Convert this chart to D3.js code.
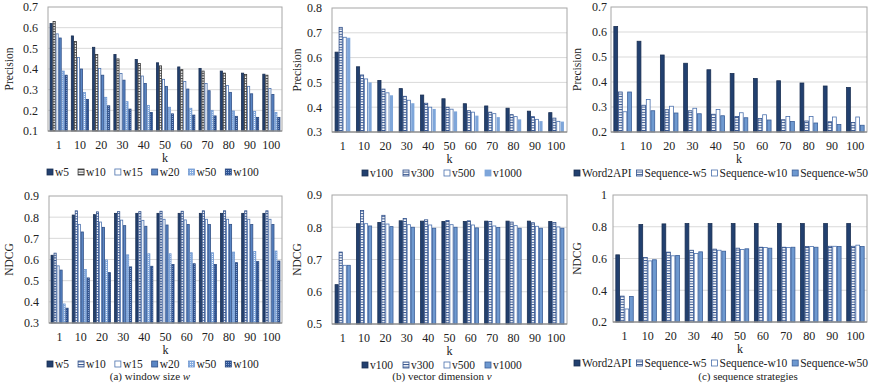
<!DOCTYPE html>
<html>
<head>
<meta charset="utf-8">
<script src="https://cdn.jsdelivr.net/npm/d3@7"></script>
<style>
  body { margin: 0; background: #fff; }
  svg, svg text { font-family: "Liberation Serif", "Times New Roman", "DejaVu Serif", serif !important; }
  svg text { fill: #222; }
</style>
</head>
<body>
<div id="chart"></div>
<script>
// categories (k)
const kLabels = ["1", "10", "20", "30", "40", "50", "60", "70", "80", "90", "100"];

// (a) window size w - precision
const precW5   = [0.62, 0.56, 0.505, 0.47, 0.446, 0.43, 0.41, 0.403, 0.39, 0.38, 0.375];
const precW10  = [0.63, 0.533, 0.47, 0.449, 0.427, 0.415, 0.397, 0.39, 0.38, 0.374, 0.37];
const precW15  = [0.57, 0.456, 0.403, 0.378, 0.366, 0.35, 0.34, 0.33, 0.32, 0.316, 0.306];
const precW20  = [0.55, 0.40, 0.37, 0.346, 0.33, 0.316, 0.303, 0.295, 0.287, 0.28, 0.277];
const precW50  = [0.39, 0.287, 0.263, 0.242, 0.224, 0.215, 0.21, 0.2, 0.197, 0.195, 0.19];
const precW100 = [0.37, 0.253, 0.222, 0.206, 0.19, 0.183, 0.177, 0.173, 0.171, 0.166, 0.166];

// (a) window size w - NDCG
const ndcgW5   = [0.62, 0.81, 0.812, 0.818, 0.818, 0.818, 0.818, 0.818, 0.818, 0.818, 0.818];
const ndcgW10  = [0.63, 0.83, 0.825, 0.826, 0.826, 0.828, 0.828, 0.83, 0.83, 0.83, 0.83];
const ndcgW15  = [0.57, 0.766, 0.777, 0.786, 0.785, 0.79, 0.787, 0.79, 0.79, 0.79, 0.79];
const ndcgW20  = [0.55, 0.73, 0.752, 0.76, 0.757, 0.763, 0.765, 0.765, 0.766, 0.765, 0.765];
const ndcgW50  = [0.39, 0.553, 0.598, 0.622, 0.627, 0.627, 0.632, 0.632, 0.635, 0.638, 0.64];
const ndcgW100 = [0.37, 0.513, 0.538, 0.565, 0.568, 0.576, 0.58, 0.576, 0.585, 0.59, 0.593];

// (b) vector dimension v - precision
const precV100  = [0.622, 0.563, 0.508, 0.475, 0.449, 0.434, 0.414, 0.405, 0.396, 0.384, 0.378];
const precV300  = [0.722, 0.53, 0.473, 0.444, 0.416, 0.40, 0.386, 0.38, 0.37, 0.362, 0.356];
const precV500  = [0.682, 0.514, 0.458, 0.428, 0.40, 0.392, 0.38, 0.374, 0.362, 0.351, 0.343];
const precV1000 = [0.68, 0.50, 0.448, 0.416, 0.393, 0.383, 0.366, 0.36, 0.351, 0.344, 0.342];

// (b) vector dimension v - NDCG
const ndcgV100  = [0.622, 0.811, 0.815, 0.82, 0.819, 0.818, 0.818, 0.819, 0.819, 0.819, 0.818];
const ndcgV300  = [0.723, 0.852, 0.837, 0.827, 0.823, 0.821, 0.82, 0.818, 0.816, 0.814, 0.815];
const ndcgV500  = [0.682, 0.811, 0.81, 0.808, 0.807, 0.808, 0.807, 0.804, 0.805, 0.803, 0.801];
const ndcgV1000 = [0.682, 0.804, 0.802, 0.80, 0.797, 0.80, 0.798, 0.799, 0.797, 0.797, 0.797];

// (c) sequence strategies - precision
const precWord2API = [0.622, 0.563, 0.508, 0.475, 0.449, 0.434, 0.414, 0.405, 0.396, 0.384, 0.378];
const precSeqW5    = [0.36, 0.307, 0.289, 0.285, 0.271, 0.262, 0.254, 0.249, 0.244, 0.241, 0.238];
const precSeqW10   = [0.281, 0.33, 0.303, 0.295, 0.29, 0.277, 0.269, 0.262, 0.262, 0.26, 0.26];
const precSeqW50   = [0.36, 0.285, 0.276, 0.273, 0.265, 0.257, 0.248, 0.242, 0.236, 0.23, 0.227];

// (c) sequence strategies - NDCG
const ndcgWord2API = [0.623, 0.814, 0.818, 0.82, 0.82, 0.82, 0.82, 0.82, 0.82, 0.82, 0.82];
const ndcgSeqW5    = [0.363, 0.606, 0.64, 0.652, 0.659, 0.665, 0.671, 0.671, 0.675, 0.677, 0.677];
const ndcgSeqW10   = [0.282, 0.585, 0.617, 0.631, 0.652, 0.657, 0.669, 0.669, 0.675, 0.677, 0.684];
const ndcgSeqW50   = [0.361, 0.592, 0.619, 0.642, 0.646, 0.661, 0.665, 0.671, 0.671, 0.675, 0.675];

// y tick labels
const ticksA1 = [0.1, 0.2, 0.3, 0.4, 0.5, 0.6, 0.7];
const ticksA2 = [0.3, 0.4, 0.5, 0.6, 0.7, 0.8, 0.9];
const ticksB1 = [0.3, 0.4, 0.5, 0.6, 0.7, 0.8];
const ticksB2 = [0.5, 0.6, 0.7, 0.8, 0.9];
const ticksC1 = [0.2, 0.3, 0.4, 0.5, 0.6, 0.7];
const ticksC2 = [0.2, 0.4, 0.6, 0.8, 1];

const captions = ["(a)  window size ", "(b)  vector dimension ", "(c)  sequence strategies"];

const FONT = "'Liberation Serif', 'Times New Roman', 'DejaVu Serif', serif";
const width = 872, height = 388;
const svg = d3.select("#chart").append("svg")
    .attr("width", width)
    .attr("height", height)
    .attr("font-family", FONT);

const defs = svg.append("defs");

// horizontal-stripe fill (white with coloured rungs)
function stripePattern(id, color) {
    const p = defs.append("pattern").attr("id", id)
        .attr("patternUnits", "userSpaceOnUse")
        .attr("width", 4).attr("height", 2.6);
    p.append("rect").attr("width", 4).attr("height", 2.6).attr("fill", "#fff");
    p.append("rect").attr("y", 0).attr("width", 4).attr("height", 1).attr("fill", color);
}
// dotted fill
function dotPattern(id, base, dot) {
    const p = defs.append("pattern").attr("id", id)
        .attr("patternUnits", "userSpaceOnUse")
        .attr("width", 2).attr("height", 2);
    p.append("rect").attr("width", 2).attr("height", 2).attr("fill", base);
    p.append("rect").attr("width", 1).attr("height", 1).attr("fill", dot);
}
stripePattern("stripeGray", "#3c3c3c");
stripePattern("stripeBlue", "#2f4f8a");
dotPattern("dotLight", "#86ace0", "#eef4fb");
dotPattern("dotDark", "#2d5394", "#8aa6d6");

const styles = {
    navy: { fill: "#22406f", stroke: "#1a2f52" },
    stripeGray: { fill: "url(#stripeGray)", stroke: "#333" },
    stripeBlue: { fill: "url(#stripeBlue)", stroke: "#2f4f8a" },
    white: { fill: "#fff", stroke: "#4a70ad" },
    mid: { fill: "#5a86c5", stroke: "#2f4f86" },
    dotLight: { fill: "url(#dotLight)", stroke: "#6f97cf" },
    dotDark: { fill: "url(#dotDark)", stroke: "#27477e" },
    light: { fill: "#7ea6da", stroke: "none" },
    lightB: { fill: "#6e99d0", stroke: "#3a5e98" }
};

function drawPanel(cfg) {
    const g = svg.append("g");
    const y = d3.scaleLinear().domain([cfg.ticks[0], cfg.ticks[cfg.ticks.length - 1]])
        .range([cfg.y1, cfg.y0]);
    const x = d3.scaleBand().domain(kLabels).range([cfg.x0, cfg.x1])
        .paddingInner(cfg.pad).paddingOuter(cfg.pad / 2);
    const names = cfg.series.map(s => s.name);
    const xs = d3.scaleBand().domain(names).range([0, x.bandwidth()]);

    // gridlines
    g.selectAll(".grid").data(cfg.ticks.slice(1, -1)).join("line")
        .attr("x1", cfg.x0).attr("x2", cfg.x1)
        .attr("y1", d => y(d)).attr("y2", d => y(d))
        .attr("stroke", "#d9d9d9").attr("stroke-width", 1);

    // bars
    cfg.series.forEach(s => {
        const st = styles[s.style];
        g.append("g").selectAll("rect").data(s.values).join("rect")
            .attr("x", (d, i) => x(kLabels[i]) + xs(s.name) + 0.4)
            .attr("y", d => y(d))
            .attr("width", xs.bandwidth() - 0.8)
            .attr("height", d => cfg.y1 - y(d))
            .attr("fill", st.fill)
            .attr("stroke", st.stroke)
            .attr("stroke-width", 0.8);
    });

    // frame
    g.append("rect").attr("x", cfg.x0).attr("y", cfg.y0)
        .attr("width", cfg.x1 - cfg.x0).attr("height", cfg.y1 - cfg.y0)
        .attr("fill", "none").attr("stroke", "#a6a6a6").attr("stroke-width", 1);
    g.append("line").attr("x1", cfg.x0).attr("x2", cfg.x1)
        .attr("y1", cfg.y1).attr("y2", cfg.y1)
        .attr("stroke", "#7f7f7f").attr("stroke-width", 1);

    // y axis
    const yAxis = g.append("g").attr("transform", `translate(${cfg.x0 - cfg.tickGap},0)`)
        .call(d3.axisLeft(y).tickValues(cfg.ticks).tickSize(0).tickPadding(0).tickFormat(d => String(d)));
    yAxis.attr("font-family", FONT).attr("font-size", null);
    yAxis.select(".domain").remove();
    yAxis.selectAll("text").style("font-size", "12px");

    // x axis labels
    const xAxis = g.append("g").attr("transform", `translate(0,${cfg.y1})`)
        .call(d3.axisBottom(x).tickSize(0).tickPadding(0));
    xAxis.attr("font-family", FONT).attr("font-size", null);
    xAxis.select(".domain").remove();
    xAxis.selectAll("text").style("font-size", "12px")
        .attr("dy", null).attr("y", 18);

    // axis titles
    g.append("text").attr("x", (cfg.x0 + cfg.x1) / 2).attr("y", cfg.y1 + 31)
        .attr("text-anchor", "middle").style("font-size", "12px").text("k");
    g.append("text")
        .attr("transform", `translate(${cfg.titleX},${(cfg.y0 + cfg.y1) / 2}) rotate(-90)`)
        .attr("text-anchor", "middle").attr("dy", "0.35em")
        .style("font-size", "11.5px").text(cfg.ylabel);

    // legend
    const leg = g.append("g");
    let lx = cfg.legX;
    const ly = cfg.y1 + 41;
    cfg.series.forEach(s => {
        const st = styles[s.style];
        leg.append("rect").attr("x", lx).attr("y", ly - 3).attr("width", 6).attr("height", 6)
            .attr("fill", st.fill).attr("stroke", st.stroke === "none" ? st.fill : st.stroke)
            .attr("stroke-width", 0.8);
        const t = leg.append("text").attr("x", lx + 8).attr("y", ly).attr("dy", "0.35em")
            .style("font-size", "11.5px").text(s.name);
        lx += 8 + t.node().getComputedTextLength() + cfg.legGap;
    });
}

function winSeries(vals, top) {
    return [
        { name: "w5", values: vals[0], style: "navy" },
        { name: "w10", values: vals[1], style: top ? "stripeGray" : "stripeBlue" },
        { name: "w15", values: vals[2], style: "white" },
        { name: "w20", values: vals[3], style: "mid" },
        { name: "w50", values: vals[4], style: "dotLight" },
        { name: "w100", values: vals[5], style: "dotDark" }
    ];
}
function dimSeries(vals, top) {
    return [
        { name: "v100", values: vals[0], style: "navy" },
        { name: "v300", values: vals[1], style: "stripeBlue" },
        { name: "v500", values: vals[2], style: "white" },
        { name: "v1000", values: vals[3], style: top ? "light" : "lightB" }
    ];
}
function seqSeries(vals) {
    return [
        { name: "Word2API", values: vals[0], style: "navy" },
        { name: "Sequence-w5", values: vals[1], style: "stripeBlue" },
        { name: "Sequence-w10", values: vals[2], style: "white" },
        { name: "Sequence-w50", values: vals[3], style: "lightB" }
    ];
}

// top row: precision
drawPanel({ x0: 48, x1: 282, y0: 7, y1: 131, ticks: ticksA1, pad: 0.155, tickGap: 10,
    titleX: 9, ylabel: "Precision", legX: 47, legGap: 9,
    series: winSeries([precW5, precW10, precW15, precW20, precW50, precW100], true) });
drawPanel({ x0: 332, x1: 567, y0: 8, y1: 132, ticks: ticksB1, pad: 0.25, tickGap: 10,
    titleX: 297, ylabel: "Precision", legX: 362, legGap: 10,
    series: dimSeries([precV100, precV300, precV500, precV1000], true) });
drawPanel({ x0: 611, x1: 867, y0: 7, y1: 132, ticks: ticksC1, pad: 0.21, tickGap: 4,
    titleX: 577, ylabel: "Precision", legX: 574, legGap: 5,
    series: seqSeries([precWord2API, precSeqW5, precSeqW10, precSeqW50]) });

// bottom row: NDCG
drawPanel({ x0: 49, x1: 282, y0: 196, y1: 323, ticks: ticksA2, pad: 0.155, tickGap: 10,
    titleX: 9, ylabel: "NDCG", legX: 47, legGap: 9,
    series: winSeries([ndcgW5, ndcgW10, ndcgW15, ndcgW20, ndcgW50, ndcgW100], false) });
drawPanel({ x0: 332, x1: 567, y0: 195, y1: 324, ticks: ticksB2, pad: 0.25, tickGap: 10,
    titleX: 297, ylabel: "NDCG", legX: 362, legGap: 10,
    series: dimSeries([ndcgV100, ndcgV300, ndcgV500, ndcgV1000], false) });
drawPanel({ x0: 613, x1: 867, y0: 195, y1: 322, ticks: ticksC2, pad: 0.21, tickGap: 6,
    titleX: 577, ylabel: "NDCG", legX: 574, legGap: 5,
    series: seqSeries([ndcgWord2API, ndcgSeqW5, ndcgSeqW10, ndcgSeqW50]) });

// captions
const capX = [150, 442, 748];
const italic = ["w", "v", ""];
captions.forEach((c, i) => {
    const t = svg.append("text").attr("x", capX[i]).attr("y", 380)
        .attr("text-anchor", "middle").style("font-size", "11px");
    t.append("tspan").text(c);
    if (italic[i]) t.append("tspan").style("font-style", "italic").text(italic[i]);
});
</script>
</body>
</html>
